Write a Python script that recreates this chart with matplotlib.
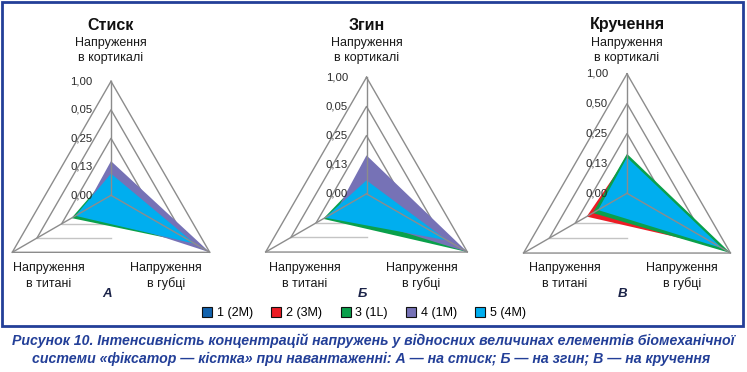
import numpy as np
import matplotlib
matplotlib.use("Agg")
import matplotlib.pyplot as plt
import matplotlib.patches as mpt

plt.rcParams['font.family'] = ['Liberation Sans', 'DejaVu Sans']

W, H = 747, 372

# --- data -----------------------------------------------------------------
SERIES = ["1 (2M)", "2 (3M)", "3 (1L)", "4 (1M)", "5 (4M)"]
SERIES_COLORS = ["#1262ad", "#ec1c24", "#0aa04b", "#7672b6", "#00aeef"]

AXIS_LABELS = ["Напруження\nв кортикалі", "Напруження\nв губці", "Напруження\nв титані"]
TITLES = ["Стиск", "Згин", "Кручення"]
LETTERS = ["А", "Б", "В"]

TICKS_AB = ["0,00", "0,13", "0,25", "0,05", "1,00"]
TICKS_C = ["0,00", "0,13", "0,25", "0,50", "1,00"]

# values as share of full radius: [кортикаль, губка, титан]
STYSK = [
    [0.14, 0.80, 0.30],
    [0.14, 0.80, 0.30],
    [0.20, 0.85, 0.40],
    [0.30, 1.00, 0.28],
    [0.19, 0.85, 0.36],
]
ZGYN = [
    [0.10, 0.72, 0.36],
    [0.10, 0.72, 0.36],
    [0.17, 1.00, 0.43],
    [0.33, 1.00, 0.30],
    [0.115, 0.80, 0.41],
]
KRUCHENNIA = [
    [0.31, 0.95, 0.30],
    [0.30, 0.90, 0.39],
    [0.33, 1.00, 0.33],
    [0.25, 0.85, 0.25],
    [0.30, 0.92, 0.28],
]

CAPTION = ["Рисунок 10. Інтенсивність концентрацій напружень у відносних величинах елементів біомеханічної",
           "системи «фіксатор — кістка» при навантаженні: А — на стиск; Б — на згин; В — на кручення"]

# chart placement in pixels: centre x, centre y, radius
PLACES = [(111, 195.3, 114), (366.5, 193.8, 116.5), (627, 193.3, 119.5)]

ANGLES = np.deg2rad([90, -30, 210])
GRID = "#8c8c8c"
BLUE = "#233f98"


def fx(x):
    return x / W


def fy(y):
    return 1 - y / H


def to_xy(vals):
    vals = np.asarray(vals)
    return vals * np.cos(ANGLES), vals * np.sin(ANGLES)


fig = plt.figure(figsize=(W / 100, H / 100), dpi=100)


def radar(cx, cy, R, values, ticks):
    x0, x1, y0, y1 = -1.3, 1.3, -0.9, 1.5
    ax = fig.add_axes([fx(cx + x0 * R), fy(cy - y0 * R), (x1 - x0) * R / W, (y1 - y0) * R / H])
    ax.set_xlim(x0, x1)
    ax.set_ylim(y0, y1)
    ax.axis('off')

    # rings
    for k in range(1, 5):
        r = k / 4
        xs, ys = to_xy([r, r, r])
        if k == 4:
            ax.plot(np.append(xs, xs[0]), np.append(ys, ys[0]), color=GRID, lw=1, zorder=1)
        else:
            ax.plot([xs[2], xs[0], xs[1]], [ys[2], ys[0], ys[1]], color=GRID, lw=1, zorder=1)
            ax.plot([xs[2], 0], [ys[2], ys[2]], color="#c4c4c4", lw=1, zorder=1)

    for i, vals in enumerate(values):
        xs, ys = to_xy(vals)
        ec = GRID if i == 0 else "none"
        ax.add_patch(mpt.Polygon(np.column_stack((xs, ys)), closed=True, facecolor=SERIES_COLORS[i],
                                 edgecolor=ec, lw=1.2, zorder=2 + i * 0.1))

    # spokes
    xs, ys = to_xy([1, 1, 1])
    for x, y in zip(xs, ys):
        ax.plot([0, x], [0, y], color=GRID, lw=1, zorder=3)

    for k, t in enumerate(ticks):
        ax.text(-0.16, k / 4, t, ha='right', va='center', fontsize=8.2, color="#2a2a2a", zorder=4)
    return ax


for (cx, cy, R), vals, ticks, title, letter in zip(
        PLACES, [STYSK, ZGYN, KRUCHENNIA], [TICKS_AB, TICKS_AB, TICKS_C], TITLES, LETTERS):
    radar(cx, cy, R, vals, ticks)
    fig.text(fx(cx), fy(25), title, ha='center', va='center', fontsize=11.5, weight='bold', color="#111111")
    fig.text(fx(cx), fy(50.5), AXIS_LABELS[0], ha='center', va='center', fontsize=9,
             color="#1a1a1a", linespacing=1.35)
    fig.text(fx(cx - 62), fy(276), AXIS_LABELS[2], ha='center', va='center', fontsize=9,
             color="#1a1a1a", linespacing=1.35)
    fig.text(fx(cx + 55), fy(276), AXIS_LABELS[1], ha='center', va='center', fontsize=9,
             color="#1a1a1a", linespacing=1.35)
    fig.text(fx(cx - 4), fy(294), letter, ha='center', va='center', fontsize=9.5, weight='bold',
             style='italic', color="#1b2348")

handles = [mpt.Patch(facecolor=c, edgecolor="#111111", lw=0.8) for c in SERIES_COLORS]
fig.legend(handles, SERIES, loc='center', bbox_to_anchor=(fx(364), fy(313)), ncol=5, frameon=False,
           fontsize=9, handlelength=0.8, handleheight=0.8, handletextpad=0.35, columnspacing=1.5)

fig.add_artist(mpt.Rectangle((fx(2), fy(326)), 741 / W, 324 / H, transform=fig.transFigure,
                             fill=False, edgecolor=BLUE, lw=2))

fig.text(fx(373.5), fy(341), CAPTION[0], ha='center', va='center', fontsize=10.2, weight='bold',
         style='italic', color=BLUE)
fig.text(fx(371.5), fy(359), CAPTION[1], ha='center', va='center', fontsize=10.2, weight='bold',
         style='italic', color=BLUE)

fig.savefig("out.png", dpi=100)
